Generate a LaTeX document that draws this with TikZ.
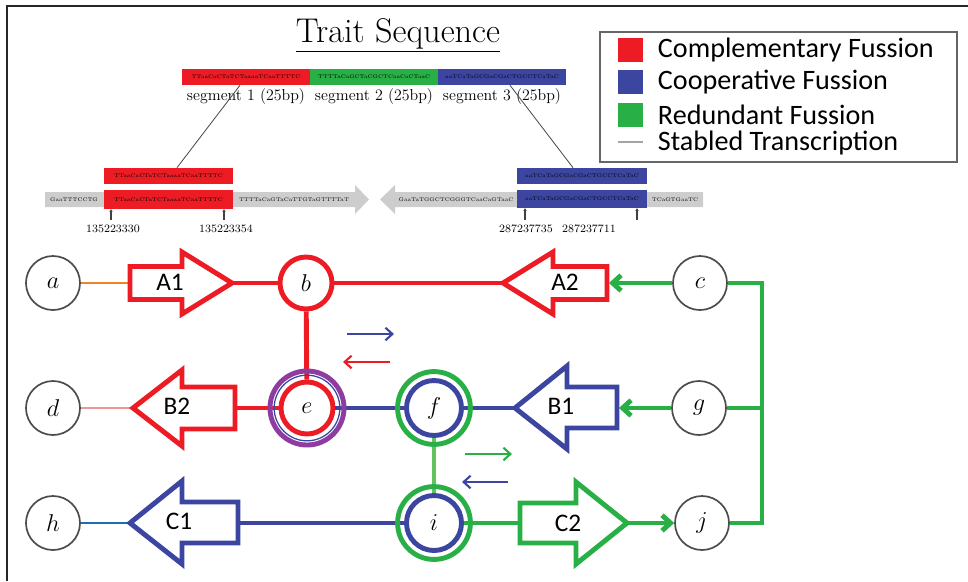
\documentclass[tikz,border=0pt]{standalone}
\usepackage{fontspec}
\setsansfont{Carlito}
\usetikzlibrary{arrows.meta}

\definecolor{cfred}{RGB}{237,28,36}
\definecolor{cfblue}{RGB}{60,70,160}
\definecolor{cfgreen}{RGB}{40,175,70}
\definecolor{cfpurple}{RGB}{142,60,160}
\definecolor{cflight}{RGB}{100,195,95}
\definecolor{cforange}{RGB}{240,130,40}
\definecolor{cfpink}{RGB}{240,150,150}
\definecolor{cfsteel}{RGB}{30,110,180}
\definecolor{track}{RGB}{205,205,205}

\begin{document}
\begin{tikzpicture}[ x=0.025cm, y=-0.025cm,
  vtx/.style={circle,draw=black!70,line width=1.2pt,fill=white,minimum size=1.35cm,inner sep=0pt,font=\fontsize{18}{20}\selectfont},
  hub/.style={circle,line width=3.5pt,fill=white,minimum size=1.3cm,inner sep=0pt,font=\fontsize{18}{20}\selectfont},
  wire/.style={line width=3.5pt},
  thinwire/.style={line width=1.8pt},
  block/.style={line width=3.5pt,fill=white,line join=miter},
  blocklabel/.style={font=\sffamily\fontsize{18}{20}\selectfont},
  feed/.style={line width=3.5pt,-{Straight Barb[length=6pt,width=11pt]}},
  flux/.style={line width=1.5pt,-{Straight Barb[length=5pt,width=9pt]}},
  segbox/.style={minimum height=0.4cm,inner sep=0pt,font=\fontsize{3.7}{4}\selectfont},
  seqtext/.style={font=\fontsize{3.7}{4}\selectfont},
  segtext/.style={font=\fontsize{11.3}{12}\selectfont},
  locus/.style={font=\fontsize{8}{9}\selectfont},
  legtext/.style={anchor=west,font=\sffamily\fontsize{20}{22}\selectfont},
]
\useasboundingbox (0,0) rectangle (968,581);

% frame
\draw[black!85,line width=1.3pt] (7,581) -- (7,6) -- (968,6);

% title and legend
\node[font=\fontsize{24.4}{27}\selectfont] (title) at (398,35) {\underline{Trait Sequence}};

\draw[black!60,line width=1.2pt] (600,32) rectangle (957,162);
\fill[cfred] (618,38) rectangle (643,62);
\fill[cfblue] (618,70) rectangle (643,94);
\fill[cfgreen] (618,103) rectangle (643,127);
\draw[track!80!black,line width=2pt] (618,142) -- (643,142);
\node[legtext] (leg1) at (653,50) {Complementary Fussion};
\node[legtext] (leg2) at (653,82) {Cooperative Fussion};
\node[legtext] (leg3) at (653,115) {Redundant Fussion};
\node[legtext] (leg4) at (653,143) {Stabled Transcription};

% trait sequence
\node[segbox,fill=cfred,minimum width=3.2cm] (seg1) at (246,77) {TTaaCaCTaTCTaaaaTCaaTTTTC};
\node[segbox,fill=cfgreen,minimum width=3.2cm] (seg2) at (374,77) {TTTTaCaGCTaCGCTCaaCaCTaaC};
\node[segbox,fill=cfblue,minimum width=3.2cm] (seg3) at (502,77) {aaTCaTaGCGaCGaCTGCCTCaTaC};
\node[segtext] at (246,97) {segment 1 (25bp)};
\node[segtext] at (374,97) {segment 2 (25bp)};
\node[segtext] at (502,97) {segment 3 (25bp)};

% chromosome tracks
\fill[track] (45,192) -- (355,192) -- (355,185) -- (369,199.5) -- (355,214) -- (355,207) -- (45,207) -- cycle;
\fill[track] (703,192) -- (395,192) -- (395,185) -- (380,199.5) -- (395,214) -- (395,207) -- (703,207) -- cycle;
\node[seqtext] at (74,199.5) {GaaTTTCCTG};
\node[seqtext] at (294,199.5) {TTTTaCaGTaCaTTGTaGTTTTaT};
\node[seqtext] at (456,199.5) {GaaTaTGGCTCGGGTCaaCaGTaaC};
\node[seqtext] at (675,199.5) {TCaGTGaaTC};

\node[segbox,fill=cfred,minimum width=3.225cm] (up1) at (168.5,176) {TTaaCaCTaTCTaaaaTCaaTTTTC};
\node[segbox,fill=cfred,minimum width=3.225cm,minimum height=0.475cm] (lo1) at (168.5,199.5) {TTaaCaCTaTCTaaaaTCaaTTTTC};
\node[segbox,fill=cfblue,minimum width=3.25cm] (up3) at (582,176) {aaTCaTaGCGaCGaCTGCCTCaTaC};
\node[segbox,fill=cfblue,minimum width=3.25cm,minimum height=0.45cm] (lo3) at (582,199) {aaTCaTaGCGaCGaCTGCCTCaTaC};

\draw[black!70,line width=0.6pt] ([xshift=-4.3pt]seg1.south) -- ([xshift=6pt]up1.north);
\draw[black!70,line width=0.6pt] ([xshift=5.7pt]seg3.south) -- ([xshift=-6.4pt]up3.north);

\draw[black!75,line width=0.8pt,-{Latex[length=2pt,width=2.5pt]}] (111,220) -- (111,209);
\draw[black!75,line width=0.8pt,-{Latex[length=2pt,width=2.5pt]}] (224,220) -- (224,209);
\draw[black!75,line width=0.8pt,-{Latex[length=2pt,width=2.5pt]}] (525,220) -- (525,208);
\draw[black!75,line width=0.8pt,-{Latex[length=2pt,width=2.5pt]}] (637,220) -- (637,208);
\node[locus] at (113,229) {135223330};
\node[locus] at (226,229) {135223354};
\node[locus] at (526,229) {287237735};
\node[locus] at (589,229) {287237711};

% fusion network
\node[vtx] (a) at (53,283) {$a$};
\node[hub,draw=cfred] (b) at (306,283) {$b$};
\node[vtx] (c) at (700,283) {$c$};
\node[vtx] (d) at (53,408) {$d$};
\node[hub,draw=cfred] (e) at (307,408) {$e$};
\node[hub,draw=cfblue,minimum size=1.375cm] (f) at (434,408) {$f$};
\node[vtx] (g) at (699,408) {$g$};
\node[vtx] (h) at (53,523) {$h$};
\node[hub,draw=cfblue,minimum size=1.375cm] (i) at (434,523) {$i$};
\node[vtx] (j) at (702,523) {$j$};

\coordinate (A1-in) at (130,283);  \coordinate (A1-out) at (232,283);
\coordinate (A2-in) at (609,283);  \coordinate (A2-out) at (503,283);
\coordinate (B2-in) at (235,408);  \coordinate (B2-out) at (133,408);
\coordinate (B1-in) at (619,408);  \coordinate (B1-out) at (515,408);
\coordinate (C1-in) at (238,523);  \coordinate (C1-out) at (130,523);
\coordinate (C2-in) at (520,523);  \coordinate (C2-out) at (627,523);
\coordinate (bus-c) at (762,283);  \coordinate (bus-j) at (762,523);

\draw[thinwire,cforange] (a) -- (A1-in);
\draw[thinwire,cfpink] (d) -- (B2-out);
\draw[thinwire,cfsteel] (h) -- (C1-out);

\draw[wire,cfred] (A1-out) -- (b);
\draw[wire,cfred] (b) -- (A2-out);
\draw[wire,cfred] (b) -- (e);
\draw[wire,cfred] (e) -- (B2-in);
\draw[wire,cfblue] (e) -- (f);
\draw[wire,cfblue] (f) -- (B1-out);
\draw[wire,cfblue] (i) -- (C1-in);
\draw[thinwire,cflight,line width=2.5pt] (f.south) -- (i.north);
\draw[wire,cfgreen] (i) -- (C2-in);

\draw[feed,cfgreen] (c) -- (A2-in);
\draw[feed,cfgreen] (g) -- (B1-in);
\draw[feed,cfgreen] (C2-out) -- (j);
\draw[wire,cfgreen,line join=miter] (c) -- (bus-c) -- (bus-j) -- (j);
\draw[wire,cfgreen] (g) -- (g -| bus-c);

% outer rings
\draw[cfpurple,line width=3.5pt] (e) circle (0.925cm);
\draw[cfblue,line width=0.9pt] (e) circle (0.82cm);
\draw[cfgreen,line width=3.5pt] (f) circle (0.91cm);
\draw[cfgreen,line width=3.5pt] (i) circle (0.91cm);

% block arrows
\draw[block,draw=cfred] (130,266.5) -- (182,266.5) -- (182,252) -- (232,283) -- (182,314) -- (182,299.5) -- (130,299.5) -- cycle;
\draw[block,draw=cfred] (607,266.5) -- (553,266.5) -- (553,252) -- (503,283) -- (553,314) -- (553,299.5) -- (607,299.5) -- cycle;
\draw[block,draw=cfred] (235,387) -- (182,387) -- (182,370) -- (133,408) -- (182,446) -- (182,429) -- (235,429) -- cycle;
\draw[block,draw=cfblue] (617,387) -- (567,387) -- (567,366) -- (515,408) -- (567,449) -- (567,428) -- (617,428) -- cycle;
\draw[block,draw=cfblue] (238,502) -- (182,502) -- (182,481) -- (130,523) -- (182,564) -- (182,543) -- (238,543) -- cycle;
\draw[block,draw=cfgreen] (520,503) -- (576,503) -- (576,482) -- (627,523) -- (576,564) -- (576,543) -- (520,543) -- cycle;
\node[blocklabel] (A1) at (170,282) {A1};
\node[blocklabel] (A2) at (565,282) {A2};
\node[blocklabel] (B2) at (177,406) {B2};
\node[blocklabel] (B1) at (561,406) {B1};
\node[blocklabel] (C1) at (179,521) {C1};
\node[blocklabel] (C2) at (568,523) {C2};

% exchange arrows
\draw[flux,cfblue] (347,334) -- (394,334);
\draw[flux,cfred] (390,362) -- (343,362);
\draw[flux,cfgreen] (465,454) -- (512,454);
\draw[flux,cfblue] (508,482) -- (462,482);

\end{tikzpicture}
\end{document}
